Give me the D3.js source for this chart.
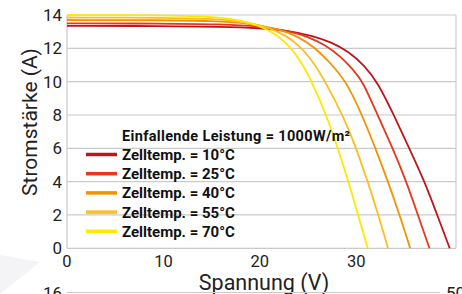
<!DOCTYPE html>
<html>
<head>
<meta charset="utf-8">
<script src="https://cdn.jsdelivr.net/npm/d3@7"></script>
<style>
  html, body { margin: 0; padding: 0; background: #fff; }
  svg { display: block; font-family: Roboto, "Liberation Sans", sans-serif; }
</style>
</head>
<body>
<svg id="chart"></svg>
<script>
// Chart size
const width = 462;
const height = 294;

// Data: voltage (V) and current (A) for each cell temperature
const temps = ["10°C", "25°C", "40°C", "55°C", "70°C"];
const colors = ["#c0141c", "#e8371c", "#f39200", "#fbbf24", "#ffe800"];

const curve10 = [[0, 13.35], [10, 13.34], [16, 13.3], [20, 13.22], [23, 13.05], [25.5, 12.75], [27.5, 12.35], [29.2, 11.8], [30.8, 11.0], [32.2, 10.0], [33.9, 8.0], [35.5, 6.0], [37.1, 4.0], [38.4, 2.0], [39.7, 0]];
const curve25 = [[0, 13.5], [10, 13.49], [16, 13.45], [20, 13.33], [23, 13.05], [25, 12.7], [26.8, 12.2], [28.4, 11.5], [29.7, 10.7], [30.7, 10.0], [32.2, 8.0], [33.8, 6.0], [35.2, 4.0], [36.4, 2.0], [37.6, 0]];
const curve40 = [[0, 13.7], [10, 13.69], [15, 13.65], [19, 13.5], [22, 13.15], [24, 12.7], [25.6, 12.1], [27.2, 11.2], [29.0, 10.0], [30.6, 8.0], [32.0, 6.0], [33.3, 4.0], [34.5, 2.0], [35.6, 0]];
const curve55 = [[0, 13.85], [10, 13.84], [15, 13.78], [18, 13.62], [20, 13.4], [22, 13.0], [23.8, 12.35], [25.3, 11.4], [26.8, 10.0], [28.6, 8.0], [30.0, 6.0], [31.2, 4.0], [32.3, 2.0], [33.3, 0]];
const curve70 = [[0, 14.0], [10, 13.99], [14, 13.93], [17, 13.78], [19, 13.55], [21, 13.1], [22.8, 12.35], [24.2, 11.3], [25.4, 10.0], [26.9, 8.0], [28.1, 6.0], [29.2, 4.0], [30.2, 2.0], [31.2, 0]];
const curves = [curve10, curve25, curve40, curve55, curve70];

const xTicks = [0, 10, 20, 30];
const yTicks = [0, 2, 4, 6, 8, 10, 12, 14];

const legendTitle = "Einfallende Leistung = 1000W/m²";

const svg = d3.select("#chart")
    .attr("width", width)
    .attr("height", height);

// Scales
const x = d3.scaleLinear().domain([0, 40.35]).range([67, 456]);
const y = d3.scaleLinear().domain([0, 14]).range([248.3, 15]);

// Faint background shape at the bottom left
svg.append("path")
    .attr("d", "M0,255 L40,262 L0,294 Z")
    .attr("fill", "#f4f4f6");

// Horizontal grid lines
svg.append("g")
    .selectAll("line")
    .data(yTicks)
    .join("line")
    .attr("x1", x.range()[0])
    .attr("x2", x.range()[1])
    .attr("y1", d => y(d))
    .attr("y2", d => y(d))
    .attr("stroke", "#cacaca")
    .attr("stroke-width", 1.2);

// Left and right borders
svg.append("line")
    .attr("x1", x.range()[0]).attr("x2", x.range()[0])
    .attr("y1", y(14)).attr("y2", y(0))
    .attr("stroke", "#cacaca").attr("stroke-width", 1.2);
svg.append("line")
    .attr("x1", x.range()[1]).attr("x2", x.range()[1])
    .attr("y1", y(14)).attr("y2", y(0))
    .attr("stroke", "#cacaca").attr("stroke-width", 1.2);

// Y axis tick labels
svg.append("g")
    .selectAll("text")
    .data(yTicks)
    .join("text")
    .attr("x", 62)
    .attr("y", d => y(d) + 6)
    .attr("text-anchor", "end")
    .attr("font-size", 17)
    .attr("fill", "#222")
    .text(d => d);

// X axis tick labels
svg.append("g")
    .selectAll("text")
    .data(xTicks)
    .join("text")
    .attr("x", d => x(d))
    .attr("y", 266.5)
    .attr("text-anchor", "middle")
    .attr("font-size", 16.5)
    .attr("fill", "#222")
    .text(d => d);

// Axis titles
svg.append("text")
    .attr("transform", "translate(37,122) rotate(-90)")
    .attr("text-anchor", "middle")
    .attr("font-size", 21)
    .attr("fill", "#222")
    .text("Stromstärke (A)");

svg.append("text")
    .attr("x", 264)
    .attr("y", 290)
    .attr("text-anchor", "middle")
    .attr("font-size", 21.5)
    .attr("fill", "#222")
    .text("Spannung (V)");

// Curves
const line = d3.line()
    .x(d => x(d[0]))
    .y(d => y(d[1]))
    .curve(d3.curveBasis);

svg.append("g")
    .selectAll("path")
    .data(curves)
    .join("path")
    .attr("d", line)
    .attr("fill", "none")
    .attr("stroke", (d, i) => colors[i])
    .attr("stroke-width", 1.8);

// Legend
const legend = svg.append("g");
legend.append("text")
    .attr("x", 122)
    .attr("y", 141)
    .attr("font-size", 14.5)
    .attr("font-weight", "bold")
    .attr("fill", "#111")
    .attr("textLength", 228)
    .text(legendTitle);

const rows = legend.selectAll("g.row")
    .data(temps)
    .join("g")
    .attr("class", "row")
    .attr("transform", (d, i) => `translate(0,${154.5 + i * 19.2})`);

rows.append("line")
    .attr("x1", 86).attr("x2", 117)
    .attr("y1", 0).attr("y2", 0)
    .attr("stroke", (d, i) => colors[i])
    .attr("stroke-width", 3.5);

rows.append("text")
    .attr("x", 122)
    .attr("y", 5.5)
    .attr("font-size", 15)
    .attr("font-weight", "bold")
    .attr("fill", "#111")
    .text(d => "Zelltemp. = " + d);

// Top of the next chart below (cut off in the reference)
svg.append("line")
    .attr("x1", 67).attr("x2", 440)
    .attr("y1", 292.5).attr("y2", 292.5)
    .attr("stroke", "#cacaca").attr("stroke-width", 1.2);
svg.append("text")
    .attr("x", 62).attr("y", 299)
    .attr("text-anchor", "end")
    .attr("font-size", 17)
    .attr("fill", "#222")
    .text("16");
svg.append("text")
    .attr("x", 446).attr("y", 299)
    .attr("font-size", 17)
    .attr("fill", "#222")
    .text("50");
</script>
</body>
</html>
